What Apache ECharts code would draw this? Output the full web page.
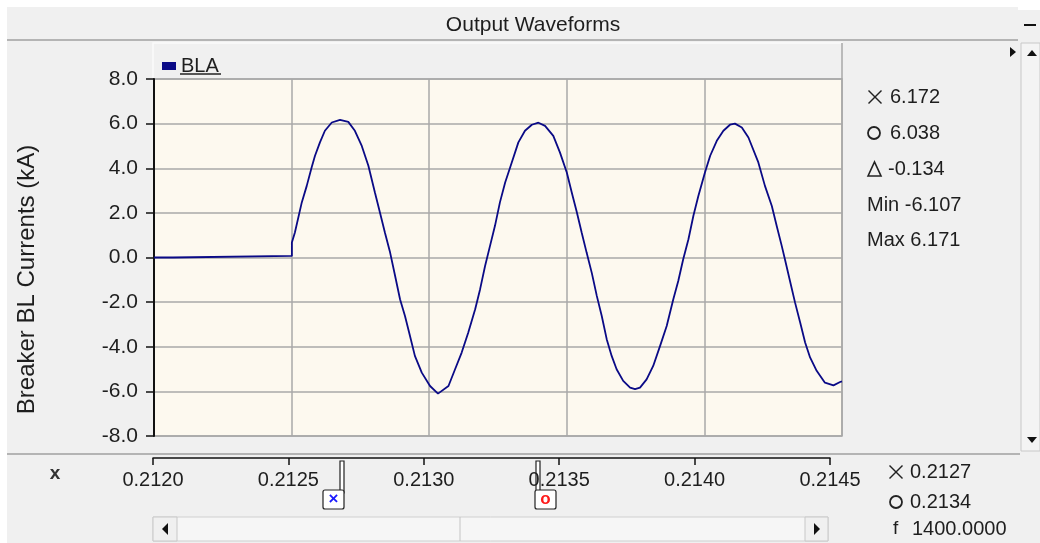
<!DOCTYPE html>
<html>
<head>
<meta charset="utf-8">
<title>Output Waveforms</title>
<script src="https://cdn.jsdelivr.net/npm/echarts@6/dist/echarts.min.js"></script>
<style>
  html, body { margin: 0; padding: 0; background: #fff; }
  .frame { position: absolute; left: 7px; top: 7px; width: 1033px; height: 536px; background: #f0f0f0; }
  #chart { position: absolute; left: 0; top: 0; width: 1040px; height: 543px; }
</style>
</head>
<body>
<div class="frame"></div>
<div id="chart"></div>
<script>
// breaker current BLA, time in s, current in kA
const times = [
  0.212000, 0.212069, 0.212069, 0.212501, 0.212501, 0.212512, 0.212537, 0.212555, 0.212573, 0.212585,
  0.212603, 0.212621, 0.212646, 0.212676, 0.212706, 0.212730, 0.212755, 0.212779, 0.212803, 0.212821,
  0.212839, 0.212858, 0.212876, 0.212894, 0.212912, 0.212930, 0.212948, 0.212973, 0.213003, 0.213032,
  0.213070, 0.213094, 0.213118, 0.213142, 0.213167, 0.213185, 0.213203, 0.213221, 0.213239, 0.213257,
  0.213276, 0.213300, 0.213324, 0.213348, 0.213373, 0.213397, 0.213421, 0.213451, 0.213475, 0.213500,
  0.213518, 0.213536, 0.213554, 0.213572, 0.213591, 0.213609, 0.213627, 0.213645, 0.213663, 0.213681,
  0.213705, 0.213730, 0.213748, 0.213766, 0.213790, 0.213814, 0.213839, 0.213863, 0.213887, 0.213905,
  0.213923, 0.213942, 0.213960, 0.213978, 0.214002, 0.214021, 0.214045, 0.214069, 0.214093, 0.214111,
  0.214136, 0.214160, 0.214196, 0.214220, 0.214245, 0.214263, 0.214281, 0.214293, 0.214311, 0.214329,
  0.214348, 0.214366, 0.214384, 0.214408, 0.214438, 0.214469, 0.214493, 0.214500
];
const current = [
  0.00, 0.00, 0.07, 0.07, 0.67, 1.12, 2.47, 3.21, 4.04, 4.56,
  5.16, 5.68, 6.05, 6.17, 6.08, 5.68, 5.00, 4.11, 2.90, 2.02,
  1.12, 0.22, -0.82, -1.87, -2.62, -3.51, -4.41, -5.16, -5.76, -6.10,
  -5.76, -5.01, -4.26, -3.36, -2.32, -1.42, -0.38, 0.52, 1.42, 2.47,
  3.36, 4.26, 5.16, 5.68, 5.95, 6.04, 5.90, 5.45, 4.71, 3.81,
  2.91, 2.05, 1.12, 0.22, -0.70, -1.72, -2.62, -3.66, -4.41, -5.01,
  -5.53, -5.83, -5.90, -5.83, -5.46, -4.86, -3.96, -3.07, -1.87, -1.05,
  -0.08, 0.82, 1.87, 2.76, 3.81, 4.56, 5.23, 5.68, 5.95, 6.00,
  5.83, 5.38, 4.26, 3.21, 2.31, 1.40, 0.52, -0.10, -1.05, -2.00,
  -2.91, -3.81, -4.48, -5.08, -5.61, -5.73, -5.58, -5.55
];

const cursorTimes = [0.212686, 0.2134];
const cursorColors = ['#1a1aff', '#ff1a1a'];
const cursorGlyphs = ['×', 'o'];

// readouts: cursor 1, cursor 2, delta, then min / max
const yReadValues = ['6.172', '6.038', '-0.134'];
const yStats = ['Min -6.107', 'Max 6.171'];
const xReadValues = ['0.2127', '0.2134'];
const freqText = '1400.0000';

const xMin = 0.212, xMax = 0.2145, xStep = 0.0005;
const yMin = -8, yMax = 8, yStep = 2;

const FONT = 'Liberation Sans';
const TXT = '#1e1e1e';

const chart = echarts.init(document.getElementById('chart'));

const option = {
  animation: false,
  textStyle: { fontFamily: FONT },
  title: {
    text: 'Output Waveforms',
    left: 528, top: 10, textAlign: 'center',
    textStyle: { fontFamily: FONT, fontSize: 21, fontWeight: 'normal', color: TXT }
  },
  legend: {
    left: 157, top: 51,
    icon: 'rect', itemWidth: 14, itemHeight: 8, itemGap: 8,
    textStyle: { fontFamily: FONT, fontSize: 20, color: TXT },
    data: ['BLA']
  },
  grid: [
    { left: 154, top: 79, width: 688, height: 357, show: true, backgroundColor: '#fdf9ef', borderColor: '#a6a6a6', borderWidth: 1.5 },
    { left: 153, top: 457, width: 677, height: 1 }
  ],
  xAxis: [
    {
      type: 'value', gridIndex: 0, min: xMin, max: xMax, interval: xStep,
      axisLine: { show: false }, axisTick: { show: false }, axisLabel: { show: false },
      splitLine: { show: true, lineStyle: { color: '#a8a8a8', width: 1.5 } }
    },
    {
      type: 'value', gridIndex: 1, min: xMin, max: xMax, interval: xStep,
      axisLine: { show: true, onZero: false, lineStyle: { color: '#111', width: 1.5 } },
      axisTick: { show: true, length: 7, lineStyle: { color: '#111', width: 1.5 } },
      axisLabel: { fontFamily: FONT, fontSize: 20, color: TXT, margin: 12, formatter: v => v.toFixed(4) },
      splitLine: { show: false }
    }
  ],
  yAxis: [
    {
      type: 'value', gridIndex: 0, min: yMin, max: yMax, interval: yStep,
      name: 'Breaker BL Currents (kA)', nameLocation: 'middle', nameGap: 115,
      nameTextStyle: { fontFamily: FONT, fontSize: 24, color: TXT, padding: [0, 44, 0, 0] },
      axisLine: { show: true, onZero: false, lineStyle: { color: '#111', width: 2 } },
      axisTick: { show: true, length: 8, lineStyle: { color: '#111', width: 1.5 } },
      axisLabel: { fontFamily: FONT, fontSize: 21, color: TXT, margin: 16, formatter: v => v.toFixed(1) },
      splitLine: { show: true, lineStyle: { color: '#a8a8a8', width: 1.5 } }
    },
    { type: 'value', gridIndex: 1, show: false }
  ],
  series: [{
    name: 'BLA',
    type: 'line',
    xAxisIndex: 0, yAxisIndex: 0,
    data: times.map((t, i) => [t, current[i]]),
    showSymbol: false,
    color: '#0a0a86',
    lineStyle: { color: '#0a0a86', width: 1.8 },
    markLine: {
      silent: true, symbol: 'none', label: { show: false },
      data: cursorTimes.map((t, i) => ({
        xAxis: t,
        lineStyle: { color: cursorColors[i], type: [6, 5], width: 1.5 }
      }))
    }
  }]
};
chart.setOption(option);

function crossMark(cx, cy, r) {
  return [
    { type: 'line', shape: { x1: cx - r, y1: cy - r, x2: cx + r, y2: cy + r }, style: { stroke: '#222', lineWidth: 1.4 } },
    { type: 'line', shape: { x1: cx - r, y1: cy + r, x2: cx + r, y2: cy - r }, style: { stroke: '#222', lineWidth: 1.4 } }
  ];
}
function ringMark(cx, cy, r) {
  return { type: 'circle', shape: { cx: cx, cy: cy, r: r }, style: { fill: 'none', stroke: '#222', lineWidth: 1.8 } };
}
function txt(x, y, s, extra) {
  return { type: 'text', style: Object.assign({ x: x, y: y, text: s, fontFamily: FONT, fontSize: 20, fill: TXT, verticalAlign: 'middle' }, extra || {}) };
}

// window chrome + cursor handles, placed from the axis scale
function buildGraphic() {
  let g = [];
  // separators
  g.push({ type: 'line', shape: { x1: 7, y1: 40, x2: 1018, y2: 40 }, style: { stroke: '#b4b4b4', lineWidth: 2 } });
  g.push({ type: 'line', shape: { x1: 7, y1: 454, x2: 1020, y2: 454 }, style: { stroke: '#b4b4b4', lineWidth: 2 } });
  // legend strip
  g.push({ type: 'rect', z: -1, shape: { x: 153, y: 43, width: 689, height: 36 }, style: { fill: '#f0f0f0', stroke: '#fafafa', lineWidth: 1.5 } });
  g.push({ type: 'line', shape: { x1: 842, y1: 43, x2: 842, y2: 79 }, style: { stroke: '#a6a6a6', lineWidth: 1.5 } });
  g.push({ type: 'line', shape: { x1: 180, y1: 74, x2: 221, y2: 74 }, style: { stroke: '#222', lineWidth: 1.5 } });
  // top-right controls
  g.push({ type: 'rect', shape: { x: 1018, y: 0, width: 22, height: 10 }, style: { fill: '#fff' } });
  g.push({ type: 'line', shape: { x1: 1024, y1: 25, x2: 1036, y2: 25 }, style: { stroke: '#111', lineWidth: 2 } });
  g.push({ type: 'polygon', shape: { points: [[1010, 47], [1016, 52], [1010, 57]] }, style: { fill: '#111' } });
  // vertical scrollbar
  g.push({ type: 'rect', shape: { x: 1021, y: 43, width: 19, height: 408 }, style: { fill: '#f4f4f4', stroke: '#c8c8c8', lineWidth: 1 } });
  g.push({ type: 'polygon', shape: { points: [[1027, 56], [1032, 50], [1037, 56]] }, style: { fill: '#111' } });
  g.push({ type: 'polygon', shape: { points: [[1027, 437], [1032, 443], [1037, 437]] }, style: { fill: '#111' } });
  // horizontal scrollbar
  g.push({ type: 'rect', shape: { x: 153, y: 517, width: 675, height: 24 }, style: { fill: '#f6f6f6', stroke: '#d0d0d0', lineWidth: 1 } });
  g.push({ type: 'rect', shape: { x: 153, y: 517, width: 24, height: 24 }, style: { fill: '#f0f0f0', stroke: '#c8c8c8', lineWidth: 1 } });
  g.push({ type: 'rect', shape: { x: 805, y: 517, width: 23, height: 24 }, style: { fill: '#f0f0f0', stroke: '#c8c8c8', lineWidth: 1 } });
  g.push({ type: 'line', shape: { x1: 460, y1: 517, x2: 460, y2: 541 }, style: { stroke: '#c4c4c4', lineWidth: 1 } });
  g.push({ type: 'polygon', shape: { points: [[168, 523], [162, 529], [168, 535]] }, style: { fill: '#111' } });
  g.push({ type: 'polygon', shape: { points: [[814, 523], [820, 529], [814, 535]] }, style: { fill: '#111' } });
  // x label
  g.push(txt(55, 474, 'x', { fontSize: 19, fontWeight: 'bold', fill: '#333', align: 'center' }));
  // y readouts
  const ry = [97, 133, 169, 205, 240];
  g = g.concat(crossMark(875, ry[0], 6.5));
  g.push(ringMark(874, ry[1], 6));
  g.push({ type: 'polygon', shape: { points: [[868, ry[2] + 7], [874.5, ry[2] - 7], [881, ry[2] + 7]] }, style: { fill: 'none', stroke: '#222', lineWidth: 1.6 } });
  yReadValues.forEach((s, i) => g.push(txt(i === 2 ? 888 : 890, ry[i], s)));
  yStats.forEach((s, i) => g.push(txt(867, ry[3 + i], s)));
  // x readouts
  const rx = [472, 502, 529];
  g = g.concat(crossMark(896, rx[0], 6.5));
  g.push(ringMark(896, rx[1], 6));
  xReadValues.forEach((s, i) => g.push(txt(910, rx[i], s)));
  g.push(txt(893, rx[2], 'f', { fontSize: 19 }));
  g.push(txt(912, rx[2], freqText));
  // cursor handles under the time axis
  cursorTimes.forEach((t, i) => {
    const px = Math.round(chart.convertToPixel({ xAxisIndex: 0 }, t));
    const left = i === 0;
    const bx = left ? px - 20 : px - 4;
    g.push({ type: 'rect', shape: { x: px - 3, y: 461, width: 4, height: 32 }, style: { fill: '#fff', stroke: '#222', lineWidth: 1.2 } });
    g.push({ type: 'rect', shape: { x: bx, y: 490, width: 21, height: 19, r: 2 }, style: { fill: '#fff', stroke: '#222', lineWidth: 1.2 } });
    g.push(txt(bx + 10.5, 499.5, cursorGlyphs[i], { fontSize: 17, fontWeight: 'bold', fill: cursorColors[i], align: 'center' }));
  });
  return g;
}
chart.setOption({ graphic: buildGraphic() });
</script>
</body>
</html>
